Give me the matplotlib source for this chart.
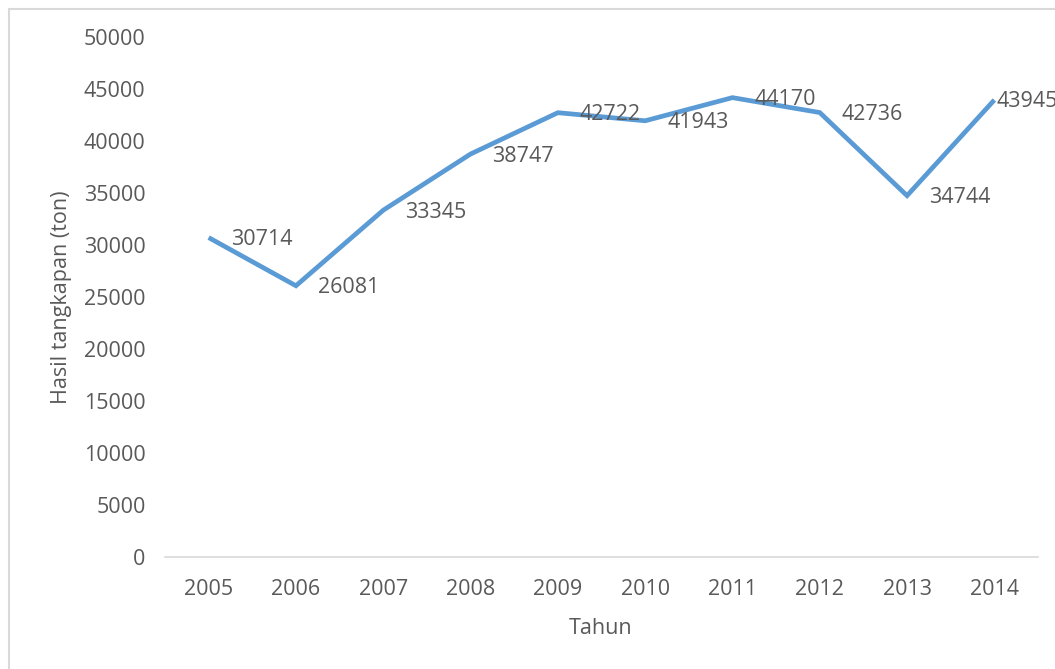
import matplotlib
matplotlib.use("Agg")
import matplotlib.pyplot as plt
from matplotlib.patches import Rectangle

years = ["2005", "2006", "2007", "2008", "2009", "2010", "2011", "2012", "2013", "2014"]
catch_ton = [30714, 26081, 33345, 38747, 42722, 41943, 44170, 42736, 34744, 43945]
y_ticks = [0, 5000, 10000, 15000, 20000, 25000, 30000, 35000, 40000, 45000, 50000]

plt.rcParams['font.family'] = ['Open Sans', 'DejaVu Sans']
txt = '#595959'
fs = 15.5

W, H = 1055, 669
fig = plt.figure(figsize=(W / 100, H / 100), dpi=100)
fig.patch.set_facecolor('white')
ax = fig.add_axes([165 / W, 1 - 557 / H, (1038 - 165) / W, (557 - 37) / H])

x = list(range(len(years)))
ax.plot(x, catch_ton, color='#5B9BD5', lw=3.4, solid_joinstyle='miter', solid_capstyle='butt')

for i, (xi, v) in enumerate(zip(x, catch_ton)):
    dx = 2 if i == len(x) - 1 else 22
    ax.annotate(str(v), (xi, v), xytext=(dx, -2), textcoords='offset pixels',
                ha='left', va='center', fontsize=fs, color=txt, annotation_clip=False)

ax.set_xlim(-0.5, len(years) - 0.5)
ax.set_ylim(0, 50000)
ax.set_xticks(x)
ax.set_xticklabels(years)
ax.set_yticks(y_ticks)
ax.set_yticklabels([str(t) for t in y_ticks])
ax.tick_params(axis='both', length=0, labelsize=fs, colors=txt)
ax.tick_params(axis='y', pad=14)
ax.tick_params(axis='x', pad=16)

for s in ['top', 'right', 'left']:
    ax.spines[s].set_visible(False)
ax.spines['bottom'].set_color('#D9D9D9')
ax.spines['bottom'].set_linewidth(1.2)

fig.text(62 / W, 1 - 297 / H, 'Hasil tangkapan (ton)', rotation=90, ha='center', va='center',
         fontsize=fs, color=txt)
fig.text(601 / W, 1 - 628 / H, 'Tahun', ha='center', va='center', fontsize=fs, color=txt)

fig.patches.append(Rectangle((9 / W, -0.1), 1.2, 1.1 - 9 / H, transform=fig.transFigure,
                             fill=False, edgecolor='#D9D9D9', lw=1.5))

fig.savefig('out.png', dpi=100)
